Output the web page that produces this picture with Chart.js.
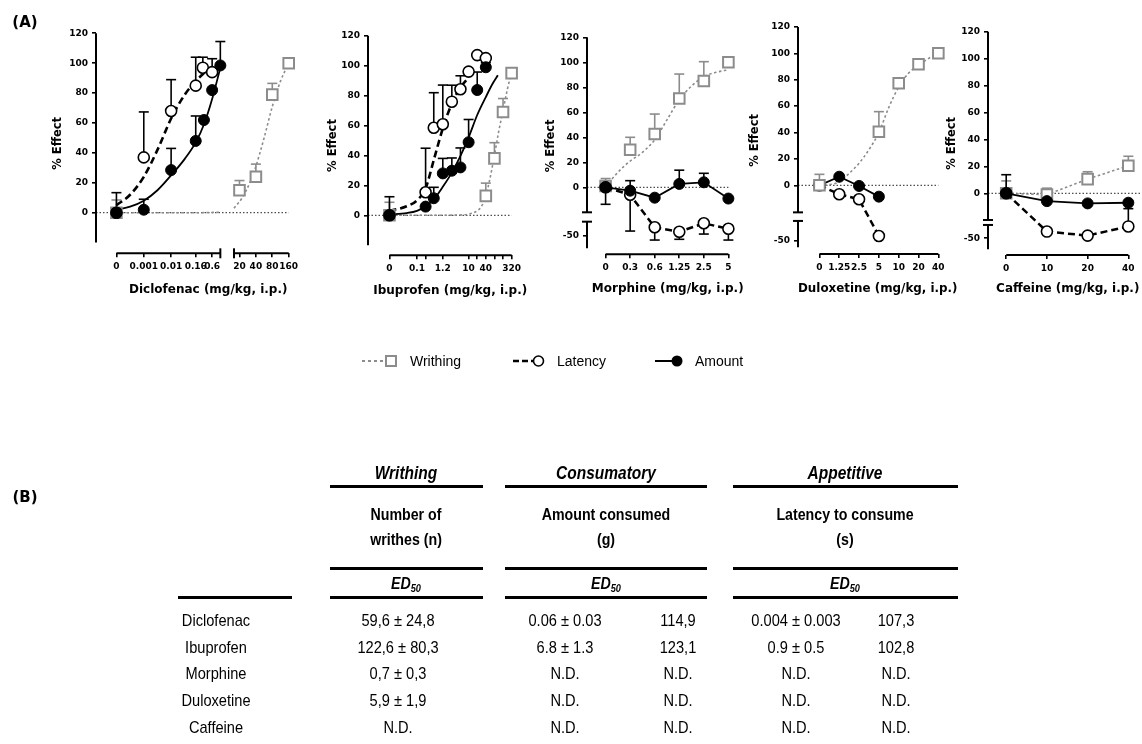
<!DOCTYPE html>
<html><head><meta charset="utf-8">
<script src="https://cdn.jsdelivr.net/npm/chart.js@4.4.1/dist/chart.umd.min.js"></script>
<style>
html,body{margin:0;padding:0;background:#fff;}
#wrap{position:relative;width:1142px;height:744px;overflow:hidden;background:#fff;}
canvas{position:absolute;top:0;}
.tx{position:absolute;white-space:nowrap;transform:translate(-50%,-50%) scaleX(.86);transform-origin:50% 50%;font-family:"Liberation Sans",Arial,sans-serif;color:#000;line-height:1;}
.tl{position:absolute;white-space:nowrap;transform:translate(0,-50%);font-family:"Liberation Sans",Arial,sans-serif;color:#000;line-height:1;font-size:14px;}
.bar{position:absolute;height:3px;background:#000;}
.lab{position:absolute;font-family:"DejaVu Sans",sans-serif;font-weight:bold;font-size:15px;transform:translate(-50%,-50%);}
sub{font-size:65%;vertical-align:-3px;}
</style></head>
<body><div id="wrap">
<canvas id="p1"></canvas><canvas id="p2"></canvas><canvas id="p3"></canvas><canvas id="p4"></canvas><canvas id="p5"></canvas>
<svg id="leg" style="position:absolute;left:0;top:0" width="1142" height="744"></svg>
</div>
<script>
// ---------- Panel A: Diclofenac ----------
const dicloTickPos    = [0, 1, 2, 2.9, 3.5, 4.5, 5.1, 5.7, 6.3];
const dicloTickLabels = ['0', '0.001', '0.01', '0.16', '0.6', '20', '40', '80', '160'];
const dicloWrithX   = [0, 4.5, 5.1, 5.7, 6.3];
const dicloWrithY   = [0, 15, 24, 79, 100];
const dicloWrithErr = [8.5, 6.5, 8.5, 7.5, 0];
const dicloLatX     = [0, 1, 2, 2.9, 3.16, 3.5];
const dicloLatY     = [0, 37, 68, 85, 97, 94];
const dicloLatErr   = [13.4, 30.4, 21, 19, 7, 9];
const dicloAmtX     = [0, 1, 2, 2.9, 3.2, 3.5, 3.8];
const dicloAmtY     = [0, 2, 28.5, 48, 62, 82, 98.5];
const dicloAmtErr   = [0, 7, 14.5, 16.7, 0, 0, 16];
const dicloWrithFitX = [0, 1, 2, 3, 3.8, 4.05, 4.3, 4.6, 4.9, 5.1, 5.4, 5.7, 6.0, 6.3];
const dicloWrithFitY = [0, 0, 0, 0, 0.3, null, 3, 10, 21, 31, 50, 71, 88, 100];
const dicloLatFitX  = [0, 0.5, 1, 1.5, 2, 2.5, 2.9, 3.3];
const dicloLatFitY  = [5, 12, 24, 42, 63, 79, 88, 95];
const dicloAmtFitX  = [0, 0.5, 1, 1.5, 2, 2.5, 2.9, 3.2, 3.5, 3.8];
const dicloAmtFitY  = [2, 4, 8, 15, 25, 36, 47, 59, 76, 97];

// ---------- Panel A: Ibuprofen ----------
const ibuTickPos    = [0, 3.2, 4.2, 6.2, 9.2, 10.2, 11.2, 12.2, 13.2, 14.2];
const ibuTickLabels = ['0', '0.1', '', '1.2', '10', '', '40', '', '', '320'];
const ibuWrithX   = [0, 11.2, 12.2, 13.2, 14.2];
const ibuWrithY   = [0, 13, 38, 69, 95];
const ibuWrithErr = [8.7, 8.5, 10.5, 9, 0];
const ibuLatX     = [0, 4.2, 5.15, 6.2, 7.25, 8.25, 9.2, 10.2, 11.2];
const ibuLatY     = [0, 15.4, 58.5, 60.8, 75.9, 84.2, 96, 107, 105];
const ibuLatErr   = [12.4, 29.4, 23.4, 26.2, 11, 9, 0, 0, 0];
const ibuAmtX     = [0, 4.2, 5.15, 6.2, 7.25, 8.25, 9.2, 10.2, 11.2];
const ibuAmtY     = [0, 5.8, 11.4, 28, 29.8, 32, 48.8, 83.7, 98.9];
const ibuAmtErr   = [0, 0, 7.3, 10, 8.5, 13, 15.2, 12, 3];
const ibuWrithFitX = [0, 4, 8, 9.2, 10.2, 10.7, 11.2, 11.7, 12.2, 12.7, 13.2, 13.7, 14.2];
const ibuWrithFitY = [0, 0, 0.2, 0.8, 3, 6, 13, 25, 40, 56, 70, 84, 96];
const ibuLatFitX  = [0, 2, 3.2, 4.2, 5.2, 6.2, 7.2, 8.2, 9.2];
const ibuLatFitY  = [3, 6, 10, 18, 38, 58, 74, 85, 92];
const ibuAmtFitX  = [0, 2, 3.2, 4.2, 5.2, 6.2, 7.2, 8.2, 9.2, 10.2, 11.2, 12.0, 12.6];
const ibuAmtFitY  = [0.5, 1.5, 3, 6, 11, 19, 28, 39, 52, 67, 79, 88, 93.5];

// ---------- Panel A: Morphine ----------
const morTickPos    = [0, 1, 2, 3, 4, 5];
const morTickLabels = ['0', '0.3', '0.6', '1.25', '2.5', '5'];
const morX        = [0, 1, 2, 3, 4, 5];
const morWrithY   = [1, 30, 42.6, 71, 85, 100];
const morWrithErr = [6, 10, 16, 19.6, 15.5, 0];
const morLatY     = [0, -6, -43, -46.6, -39.8, -44.2];
const morLatErr   = [0, -40, -10.2, -6, -8.6, -9];
const morAmtY     = [0, -2.7, -8.3, 2.7, 4, -9];
const morAmtErr   = [-13.6, 8, 0, 11, 7.2, 0];
const morWrithFitX = [0, 0.5, 1, 1.5, 2, 2.5, 3, 3.5, 4, 4.5, 5];
const morWrithFitY = [0.5, 12, 21, 28, 38, 54, 70, 81, 88.5, 92, 94];

// ---------- Panel A: Duloxetine ----------
const dulTickPos    = [0, 1, 2, 3, 4, 5, 6];
const dulTickLabels = ['0', '1.25', '2.5', '5', '10', '20', '40'];
const dulWrithX   = [0, 3, 4, 5, 6];
const dulWrithY   = [0, 40.6, 77.3, 91.7, 100];
const dulWrithErr = [8.3, 15.2, 0, 0, 0];
const dulLatX     = [0, 1, 2, 3];
const dulLatY     = [0, -6.8, -10.6, -46.4];
const dulLatErr   = [0, 0, 0, 0];
const dulAmtX     = [0, 1, 2, 3];
const dulAmtY     = [0, 6.5, -0.5, -8.6];
const dulAmtErr   = [0, 0, 0, 0];
const dulWrithFitX = [0, 0.5, 1, 1.5, 2, 2.5, 3, 3.5, 4, 4.5, 5, 5.5, 6];
const dulWrithFitY = [0, 0.5, 2.7, 9, 16.7, 27, 40, 59, 74.5, 85, 91, 96, 100];

// ---------- Panel A: Caffeine ----------
const cafTickPos    = [0, 1, 2, 3];
const cafTickLabels = ['0', '10', '20', '40'];
const cafX        = [0, 1, 2, 3];
const cafWrithY   = [0, -1, 10.5, 20.5];
const cafWrithErr = [9.2, 4.8, 5.5, 7];
const cafLatY     = [0, -45, -48, -41.2];
const cafLatErr   = [0, 0, 0, 29.8];
const cafAmtY     = [0, -5.8, -7.5, -7];
const cafAmtErr   = [13.8, 0, 0, 0];

// ---------- Y tick labels ----------
const yTicksPlain  = [0, 20, 40, 60, 80, 100, 120];
const yTicksBroken = [-50, 0, 20, 40, 60, 80, 100, 120];

// ---------- Panel B table ----------
const drugs = ['Diclofenac', 'Ibuprofen', 'Morphine', 'Duloxetine', 'Caffeine'];
const writhingED50 = ['59,6 \u00b1 24,8', '122,6 \u00b1 80,3', '0,7 \u00b1 0,3', '5,9 \u00b1 1,9', 'N.D.'];
const amountED50   = ['0.06 \u00b1 0.03', '6.8 \u00b1 1.3', 'N.D.', 'N.D.', 'N.D.'];
const amountMax    = ['114,9', '123,1', 'N.D.', 'N.D.', 'N.D.'];
const latencyED50  = ['0.004 \u00b1 0.003', '0.9 \u00b1 0.5', 'N.D.', 'N.D.', 'N.D.'];
const latencyMax   = ['107,3', '102,8', 'N.D.', 'N.D.', 'N.D.'];

const GRAY = '#8c8c8c';
const FAM = 'DejaVu Sans';
const tickFont = {family: FAM, size: 9, weight: 'bold'};
const xTitleFont = {family: FAM, size: 12, weight: 'bold'};
const yTitleFont = {family: FAM, size: 11.5, weight: 'bold'};

function disp(v, off) { return (off && v !== null && v < -30) ? v + off : v; }

function makeChart(id, g, d) {
  const H = 310;
  const L = Math.round(g.axisX) - 70;
  const W = Math.round(2 * g.titleX - g.axisX) - L;
  const cv = document.getElementById(id);
  cv.width = W; cv.height = H; cv.style.left = L + 'px';
  const areaL = L + 70, areaR = L + W;
  const xMin = (areaL - g.x0) / g.px, xMax = (areaR - g.x0) / g.px;
  const yTop = g.y0 - 120 * g.py;
  const yMin = -(g.xAxisY - g.y0) / g.py;
  const off = d.off || 0;
  const pts = (xs, ys) => xs.map((x, i) => ({x: x, y: disp(ys[i], off)}));
  const yVals = d.yTicks.map(v => disp(v, off));
  const wrOrder = d.writhTop ? -1 : 0;

  const datasets = [
    {data: pts(d.amtX, d.amtY), showLine: !!d.connect, borderColor: '#000', borderWidth: 1.8,
     pointStyle: 'circle', pointRadius: 5.5, pointBackgroundColor: '#000', pointBorderColor: '#000', pointBorderWidth: 1},
    {data: pts(d.latX, d.latY), showLine: !!d.connect, borderColor: '#000', borderWidth: 2.5, borderDash: [7, 4],
     pointStyle: 'circle', pointRadius: 5.5, pointBackgroundColor: '#fff', pointBorderColor: '#000', pointBorderWidth: 1.6},
    {data: pts(d.wrX, d.wrY), showLine: !!d.connectWr, borderColor: GRAY, borderWidth: 1.6, borderDash: [2.5, 2.5], order: wrOrder,
     pointStyle: 'rect', pointRadius: 7.5, pointBackgroundColor: '#fff', pointBorderColor: GRAY, pointBorderWidth: 2}
  ];
  if (d.amtFitX) datasets.push({data: pts(d.amtFitX, d.amtFitY), showLine: true, pointRadius: 0, borderColor: '#000', borderWidth: 1.8, cubicInterpolationMode: 'monotone'});
  if (d.latFitX) datasets.push({data: pts(d.latFitX, d.latFitY), showLine: true, pointRadius: 0, borderColor: '#000', borderWidth: 2.6, borderDash: [7, 4], cubicInterpolationMode: 'monotone'});
  if (d.wrFitX) datasets.push({data: pts(d.wrFitX, d.wrFitY), showLine: true, pointRadius: 0, borderColor: GRAY, borderWidth: 1.6, borderDash: [2.5, 2.5], cubicInterpolationMode: 'monotone', spanGaps: false});

  const deco = {
    id: 'deco',
    beforeDatasetsDraw(chart) {
      const ctx = chart.ctx, ca = chart.chartArea, xs = chart.scales.x, ys = chart.scales.y;
      const X = v => xs.getPixelForValue(v), Yd = v => ys.getPixelForValue(v);
      const Y = v => ys.getPixelForValue(disp(v, off));
      const seg = (a, b, c, e) => { ctx.beginPath(); ctx.moveTo(a, b); ctx.lineTo(c, e); ctx.stroke(); };
      ctx.save();
      ctx.strokeStyle = '#222'; ctx.lineWidth = 1; ctx.setLineDash([1.5, 2]);
      seg(ca.left, Yd(0), X(d.baseEnd), Yd(0));
      ctx.setLineDash([]);
      ctx.strokeStyle = '#000'; ctx.lineWidth = 2;
      d.ySegs.forEach(s => seg(ca.left, Yd(s[0]), ca.left, Yd(s[1])));
      if (d.ySegs.length > 1) {
        seg(ca.left - 5, Yd(d.ySegs[0][0]), ca.left + 5, Yd(d.ySegs[0][0]));
        seg(ca.left - 5, Yd(d.ySegs[1][1]), ca.left + 5, Yd(d.ySegs[1][1]));
      }
      d.xSegs.forEach(s => seg(X(s[0]), ca.bottom, X(s[1]), ca.bottom));
      if (d.xSegs.length > 1) {
        seg(X(d.xSegs[0][1]), ca.bottom - 5, X(d.xSegs[0][1]), ca.bottom + 5);
        seg(X(d.xSegs[1][0]), ca.bottom - 5, X(d.xSegs[1][0]), ca.bottom + 5);
      }
      ctx.lineWidth = 1.6;
      d.errs.forEach(es => {
        ctx.strokeStyle = es.c;
        es.x.forEach((xv, i) => {
          const e = es.e[i];
          if (!e) return;
          const px = X(xv), p1 = Y(es.y[i]), p2 = Y(es.y[i] + e);
          seg(px, p1, px, p2);
          seg(px - 5, p2, px + 5, p2);
        });
      });
      ctx.restore();
    }
  };

  new Chart(cv, {
    type: 'scatter',
    data: {datasets: datasets},
    options: {
      responsive: false, animation: false, devicePixelRatio: 1, events: [],
      layout: {padding: {left: 0, right: 0, top: yTop, bottom: 0}},
      plugins: {legend: {display: false}, tooltip: {enabled: false}},
      scales: {
        x: {
          type: 'linear', position: 'bottom', min: xMin, max: xMax,
          afterFit: s => { s.height = H - g.xAxisY; },
          afterBuildTicks: s => { s.ticks = d.xTicks.map(v => ({value: v})); },
          ticks: {autoSkip: false, maxRotation: 0, minRotation: 0, padding: 4, color: '#000', font: tickFont,
                  callback: (v, i) => d.xLabels[i]},
          grid: {display: true, drawOnChartArea: false, drawTicks: true, tickLength: 4, color: '#000', lineWidth: 1.6},
          border: {display: false},
          title: {display: true, text: d.xTitle, color: '#000', font: xTitleFont,
                  padding: {top: 0, bottom: H - g.xTitleY - xTitleFont.size * 0.6}}
        },
        y: {
          type: 'linear', position: 'left', min: yMin, max: 120,
          afterFit: s => { s.width = 70; },
          afterBuildTicks: s => { s.ticks = yVals.map(v => ({value: v})); },
          ticks: {autoSkip: false, padding: 4, color: '#000', font: tickFont,
                  callback: (v, i) => String(d.yTicks[i])},
          grid: {display: true, drawOnChartArea: false, drawTicks: true, tickLength: 4, color: '#000', lineWidth: 1.6},
          border: {display: false},
          title: {display: true, text: '% Effect', color: '#000', font: yTitleFont,
                  padding: {top: g.yTitleX - L - yTitleFont.size * 0.6, bottom: 0}}
        }
      }
    },
    plugins: [deco]
  });
}

makeChart('p1', {axisX: 96, x0: 117.3, px: 28.5, y0: 212.7, py: 1.495, xAxisY: 253.3, titleX: 213, yTitleX: 58, xTitleY: 290}, {
  xTicks: dicloTickPos, xLabels: dicloTickLabels, xTitle: 'Diclofenac (mg/kg, i.p.)', yTicks: yTicksPlain,
  ySegs: [[-20, 120]], xSegs: [[0, 3.8], [4.3, 6.3]], baseEnd: 6.3,
  wrX: dicloWrithX, wrY: dicloWrithY, latX: dicloLatX, latY: dicloLatY, amtX: dicloAmtX, amtY: dicloAmtY,
  wrFitX: dicloWrithFitX, wrFitY: dicloWrithFitY, latFitX: dicloLatFitX, latFitY: dicloLatFitY, amtFitX: dicloAmtFitX, amtFitY: dicloAmtFitY,
  errs: [{x: dicloWrithX, y: dicloWrithY, e: dicloWrithErr, c: GRAY}, {x: dicloLatX, y: dicloLatY, e: dicloLatErr, c: '#000'}, {x: dicloAmtX, y: dicloAmtY, e: dicloAmtErr, c: '#000'}]
});
makeChart('p2', {axisX: 368.3, x0: 390.7, px: 9.1, y0: 215.3, py: 1.497, xAxisY: 255.3, titleX: 455, yTitleX: 333.3, xTitleY: 291}, {
  xTicks: ibuTickPos, xLabels: ibuTickLabels, xTitle: 'Ibuprofen (mg/kg, i.p.)', yTicks: yTicksPlain,
  ySegs: [[-20, 120]], xSegs: [[0, 14.2]], baseEnd: 14.2,
  wrX: ibuWrithX, wrY: ibuWrithY, latX: ibuLatX, latY: ibuLatY, amtX: ibuAmtX, amtY: ibuAmtY,
  wrFitX: ibuWrithFitX, wrFitY: ibuWrithFitY, latFitX: ibuLatFitX, latFitY: ibuLatFitY, amtFitX: ibuAmtFitX, amtFitY: ibuAmtFitY,
  errs: [{x: ibuWrithX, y: ibuWrithY, e: ibuWrithErr, c: GRAY}, {x: ibuLatX, y: ibuLatY, e: ibuLatErr, c: '#000'}, {x: ibuAmtX, y: ibuAmtY, e: ibuAmtErr, c: '#000'}]
});
makeChart('p3', {axisX: 587, x0: 606.7, px: 26, y0: 187.3, py: 1.25, xAxisY: 254.3, titleX: 672.5, yTitleX: 551, xTitleY: 289}, {
  xTicks: morTickPos, xLabels: morTickLabels, xTitle: 'Morphine (mg/kg, i.p.)', yTicks: yTicksBroken, off: 11,
  ySegs: [[-20, 120], [-48.8, -27.5]], xSegs: [[0, 5]], baseEnd: 5, connect: true,
  wrX: morX, wrY: morWrithY, latX: morX, latY: morLatY, amtX: morX, amtY: morAmtY,
  wrFitX: morWrithFitX, wrFitY: morWrithFitY,
  errs: [{x: morX, y: morWrithY, e: morWrithErr, c: GRAY}, {x: morX, y: morLatY, e: morLatErr, c: '#000'}, {x: morX, y: morAmtY, e: morAmtErr, c: '#000'}]
});
makeChart('p4', {axisX: 798.3, x0: 820.7, px: 21, y0: 185.3, py: 1.32, xAxisY: 254, titleX: 882.5, yTitleX: 755, xTitleY: 289}, {
  xTicks: dulTickPos, xLabels: dulTickLabels, xTitle: 'Duloxetine (mg/kg, i.p.)', yTicks: yTicksBroken, off: 8,
  ySegs: [[-20.5, 120], [-47, -27]], xSegs: [[0, 6]], baseEnd: 6, connect: true, writhTop: true,
  wrX: dulWrithX, wrY: dulWrithY, latX: dulLatX, latY: dulLatY, amtX: dulAmtX, amtY: dulAmtY,
  wrFitX: dulWrithFitX, wrFitY: dulWrithFitY,
  errs: [{x: dulWrithX, y: dulWrithY, e: dulWrithErr, c: GRAY}, {x: dulLatX, y: dulLatY, e: dulLatErr, c: '#000'}, {x: dulAmtX, y: dulAmtY, e: dulAmtErr, c: '#000'}]
});
makeChart('p5', {axisX: 988.3, x0: 1007.3, px: 43.13, y0: 193.3, py: 1.347, xAxisY: 255, titleX: 1072.5, yTitleX: 951.7, xTitleY: 289}, {
  xTicks: cafTickPos, xLabels: cafTickLabels, xTitle: 'Caffeine (mg/kg, i.p.)', yTicks: yTicksBroken, off: 16.6,
  ySegs: [[-19.8, 120], [-41.6, -23.5]], xSegs: [[0, 3]], baseEnd: 3.4, connect: true, connectWr: true,
  wrX: cafX, wrY: cafWrithY, latX: cafX, latY: cafLatY, amtX: cafX, amtY: cafAmtY,
  errs: [{x: cafX, y: cafWrithY, e: cafWrithErr, c: GRAY}, {x: cafX, y: cafLatY, e: cafLatErr, c: '#000'}, {x: cafX, y: cafAmtY, e: cafAmtErr, c: '#000'}]
});

// ---------- legend (symbols in SVG, text in HTML) ----------
const wrap = document.getElementById('wrap');
const svg = document.getElementById('leg');
const LY = 361;
svg.innerHTML =
  `<line x1="362" y1="${LY}" x2="383" y2="${LY}" stroke="${GRAY}" stroke-width="2" stroke-dasharray="3,3"/>` +
  `<rect x="386" y="${LY - 5}" width="10" height="10" fill="#fff" stroke="${GRAY}" stroke-width="2"/>` +
  `<line x1="513" y1="${LY}" x2="533" y2="${LY}" stroke="#000" stroke-width="2.5" stroke-dasharray="6,3"/>` +
  `<circle cx="538.5" cy="${LY}" r="5" fill="#fff" stroke="#000" stroke-width="1.6"/>` +
  `<line x1="655" y1="${LY}" x2="674" y2="${LY}" stroke="#000" stroke-width="2"/>` +
  `<circle cx="677" cy="${LY}" r="5.5" fill="#000"/>`;
function addText(cls, txt, x, y, style) {
  const el = document.createElement('div');
  el.className = cls; el.innerHTML = txt;
  el.style.left = x + 'px'; el.style.top = y + 'px';
  if (style) el.style.cssText += style;
  wrap.appendChild(el);
}
addText('tl', 'Writhing', 410, LY);
addText('tl', 'Latency', 557, LY);
addText('tl', 'Amount', 695, LY);
addText('lab', '(A)', 25, 22);
addText('lab', '(B)', 25, 497);

// ---------- table ----------
function bar(x1, x2, y) {
  const b = document.createElement('div'); b.className = 'bar';
  b.style.left = x1 + 'px'; b.style.width = (x2 - x1) + 'px'; b.style.top = (y - 1.5) + 'px';
  wrap.appendChild(b);
}
const colC = [406, 606, 845];
const colSpan = [[330, 483], [505, 707], [733, 958]];
const heads = ['Writhing', 'Consumatory', 'Appetitive'];
const sub1 = ['Number of', 'Amount consumed', 'Latency to consume'];
const sub2 = ['writhes (n)', '(g)', '(s)'];
heads.forEach((h, i) => {
  addText('tx', h, colC[i], 473, 'font-size:18px;font-weight:bold;font-style:italic;');
  addText('tx', sub1[i], colC[i], 514, 'font-size:16.5px;font-weight:bold;');
  addText('tx', sub2[i], colC[i], 539, 'font-size:16.5px;font-weight:bold;');
  addText('tx', 'ED<sub>50</sub>', colC[i], 584, 'font-size:16.5px;font-weight:bold;font-style:italic;');
  bar(colSpan[i][0], colSpan[i][1], 486);
  bar(colSpan[i][0], colSpan[i][1], 568);
  bar(colSpan[i][0], colSpan[i][1], 597);
});
bar(178, 292, 597);
const rowY = [620, 647, 673, 700, 727];
drugs.forEach((dname, r) => {
  const st = 'font-size:17px;';
  addText('tx', dname, 216, rowY[r], st);
  addText('tx', writhingED50[r], 398, rowY[r], st);
  addText('tx', amountED50[r], 565, rowY[r], st);
  addText('tx', amountMax[r], 678, rowY[r], st);
  addText('tx', latencyED50[r], 796, rowY[r], st);
  addText('tx', latencyMax[r], 896, rowY[r], st);
});
</script></body></html>
